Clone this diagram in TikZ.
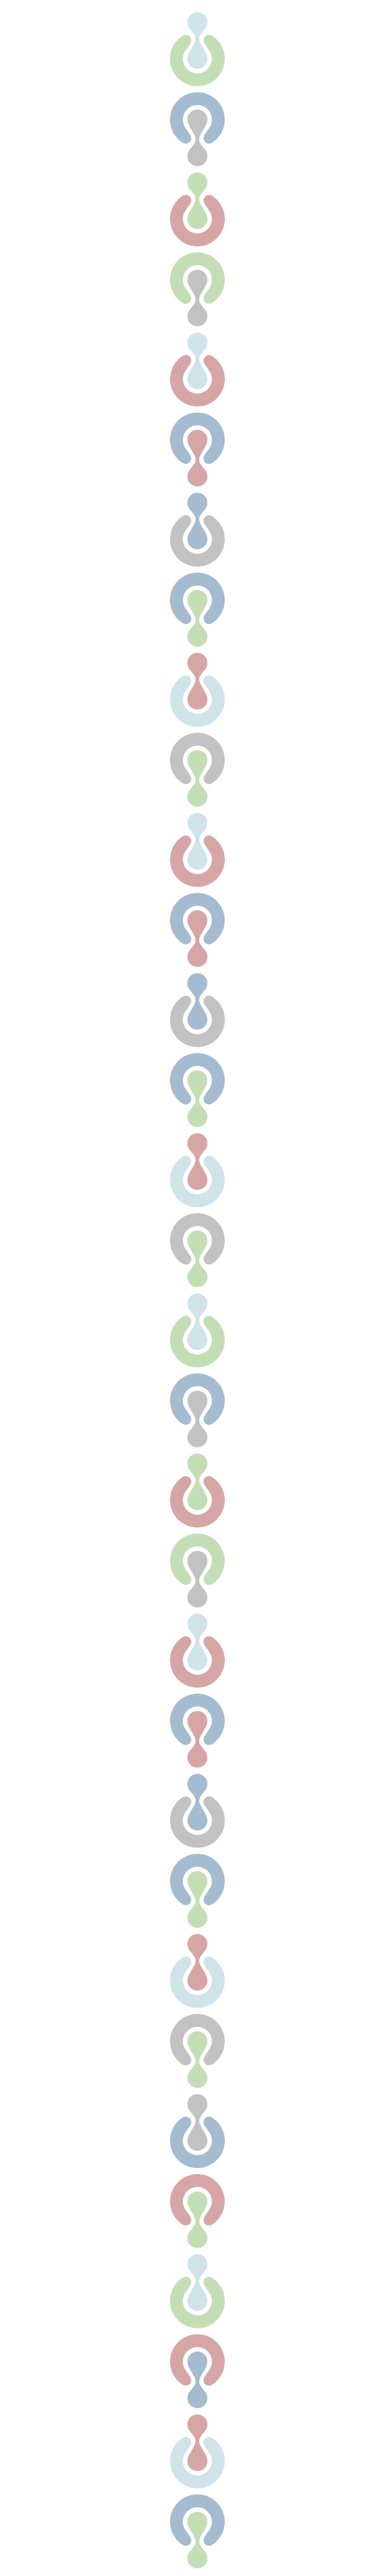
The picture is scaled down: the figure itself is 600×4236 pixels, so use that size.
\documentclass[tikz,border=0pt]{standalone}
\usepackage{tikz}

\definecolor{paleblue}{HTML}{CFE3E9}
\definecolor{sage}{HTML}{C3DEB5}
\definecolor{steel}{HTML}{A5BBD0}
\definecolor{ash}{HTML}{C2C2C2}
\definecolor{rose}{HTML}{D6A6A6}

\begin{document}
\begin{tikzpicture}[x=1pt,y=1pt]
	\useasboundingbox (0,0) rectangle (600,-4236);
	\foreach \i/\rc/\bc in {1/sage/paleblue, 2/steel/ash, 3/rose/sage, 4/sage/ash,
		5/rose/paleblue, 6/steel/rose, 7/ash/steel, 8/steel/sage,
		9/paleblue/rose, 10/ash/sage, 11/rose/paleblue, 12/steel/rose,
		13/ash/steel, 14/steel/sage, 15/paleblue/rose, 16/ash/sage,
		17/sage/paleblue, 18/steel/ash, 19/rose/sage, 20/sage/ash,
		21/rose/paleblue, 22/steel/rose, 23/ash/steel, 24/steel/sage,
		25/paleblue/rose, 26/ash/sage, 27/steel/ash, 28/rose/sage,
		29/sage/paleblue, 30/rose/steel, 31/paleblue/rose, 32/steel/sage} {
		\pgfmathsetmacro{\flip}{isodd(\i) ? 1 : -1}
		\pgfmathsetmacro{\cy}{(isodd(\i) ? 96.7 : 65) + (\i-1)*131.67}
		\begin{scope}[shift={(325,-\cy)}, yscale=\flip]
			\fill[\rc] (0,-45) arc[start angle=-90, end angle=58, radius=45]
				arc[start angle=58, end angle=195, radius=9]
				.. controls (11.17,25.3) and (17.94,16.23) .. (19.66,13.77)
				arc[start angle=35, end angle=-215, radius=24]
				.. controls (-17.94,16.23) and (-11.17,25.3) .. (-10.39,28.2)
				arc[start angle=-15, end angle=122, radius=9]
				arc[start angle=122, end angle=270, radius=45] -- cycle;
			\fill[\bc] (0,-16.5) arc[start angle=-90, end angle=0, radius=16.5]
				.. controls (16.5,11) and (2.8,23) .. (2.8,33)
				.. controls (2.8,40) and (12.4,47.6) .. (14.95,53.03)
				arc[start angle=-25, end angle=205, radius=16.5]
				.. controls (-12.4,47.6) and (-2.8,40) .. (-2.8,33)
				.. controls (-2.8,23) and (-16.5,11) .. (-16.5,0)
				arc[start angle=180, end angle=270, radius=16.5] -- cycle;
		\end{scope}
	}
\end{tikzpicture}
\end{document}
